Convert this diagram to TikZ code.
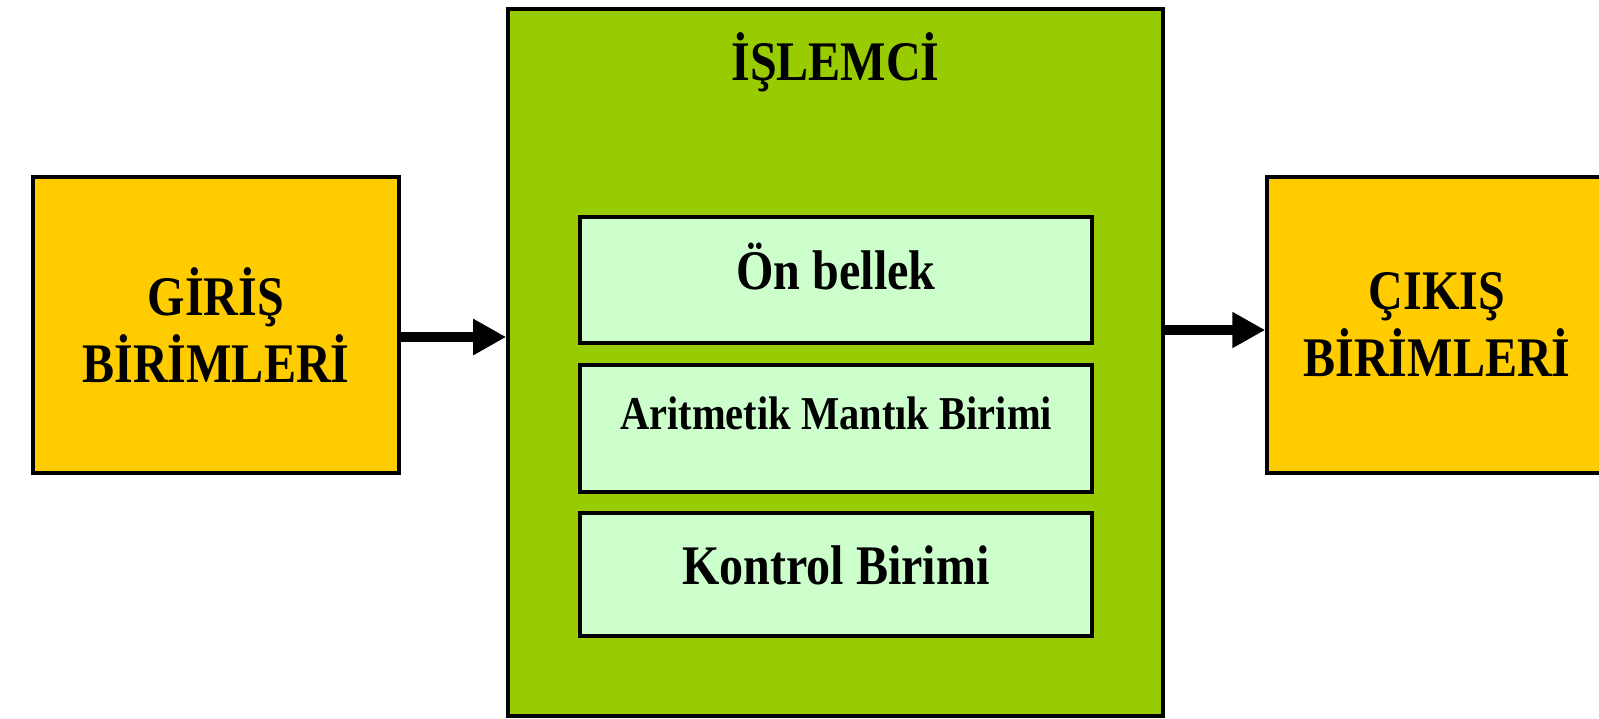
\documentclass[tikz,border=0pt]{standalone}
\usepackage{fontspec}
\setmainfont[FakeStretch=0.86]{Liberation Serif}
\usepackage{xcolor}
\usepackage{tikz}
\usetikzlibrary{arrows.meta, positioning, calc}

\definecolor{sari}{HTML}{FFCC00}
\definecolor{yesil}{HTML}{99CC00}
\definecolor{acikyesil}{HTML}{CCFFCC}

\begin{document}
\begin{tikzpicture}[
    birim/.style={rectangle, draw, line width=1pt, fill=sari, align=center, inner sep=0pt,
      minimum height=2.96cm, font=\bfseries\fontsize{15.9}{19.1}\selectfont},
    parca/.style={rectangle, draw, line width=1pt, fill=acikyesil, inner sep=0pt,
      minimum width=5.12cm, font=\bfseries\fontsize{15.9}{19.1}\selectfont},
    ok/.style={-{Triangle[length=0.33cm, width=0.34cm]}, line width=0.1cm}
  ]
  \path[use as bounding box, clip] (0,0) rectangle (15.99,-7.18);

  \node[birim, minimum width=3.66cm] (giris) at (2.16,-3.25) {GİRİŞ\\BİRİMLERİ};
  \node[rectangle, draw, line width=1pt, fill=yesil, minimum width=6.55cm, minimum height=7.07cm] (islemci) at (8.355,-3.625) {};
  \node[birim, minimum width=3.40cm] (cikis) at (14.37,-3.25) {ÇIKIŞ\\BİRİMLERİ};

  \node[anchor=base, font=\bfseries\fontsize{15.9}{19.1}\selectfont] (baslik) at (8.355,-0.80) {İŞLEMCİ};

  % islemci icindeki birimler
  \node[parca, minimum height=1.26cm, text height=0.40cm, text depth=0.21cm] (onbellek) at (8.36,-2.80) {Ön bellek};
  \node[parca, minimum height=1.27cm, text height=0.30cm, text depth=0.29cm,
    font=\bfseries\fontsize{13.4}{16}\selectfont] (alu) at (8.36,-4.285) {Aritmetik Mantık Birimi};
  \node[parca, minimum height=1.23cm, text height=0.40cm, text depth=0.21cm] (kontrol) at (8.36,-5.745) {Kontrol Birimi};

  \draw[ok] ([yshift=-0.12cm]giris.east) -- ([yshift=-0.12cm]giris.east -| islemci.west);
  \draw[ok] ([yshift=-0.05cm]islemci.east |- cikis.west) -- ([yshift=-0.05cm]cikis.west);
\end{tikzpicture}
\end{document}
